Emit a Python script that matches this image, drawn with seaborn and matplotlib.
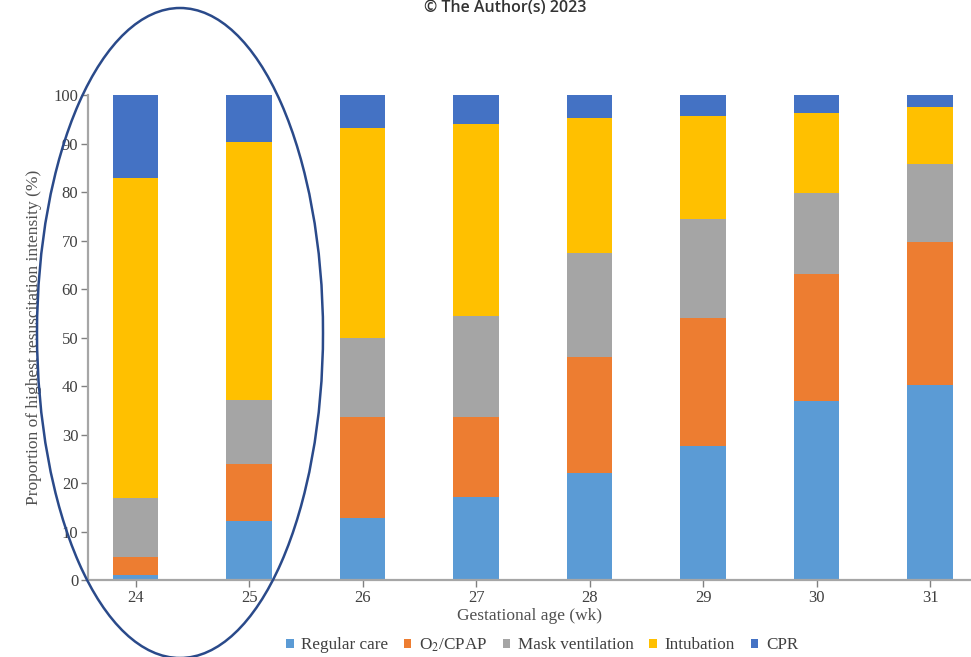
import matplotlib
matplotlib.use("Agg")
import matplotlib.pyplot as plt
from matplotlib.patches import Ellipse, Patch
import seaborn as sns
import numpy as np
import pandas as pd

ages = ["24", "25", "26", "27", "28", "29", "30", "31"]
regular_care = [1.1, 12.1, 12.8, 17.1, 22.0, 27.7, 36.9, 40.3]
o2_cpap = [3.6, 11.9, 20.9, 16.6, 24.1, 26.4, 26.2, 29.5]
mask_ventilation = [12.2, 13.2, 16.3, 20.8, 21.3, 20.3, 16.7, 16.1]
intubation = [66.0, 53.1, 43.3, 39.5, 28.0, 21.4, 16.6, 11.6]
cpr = [17.1, 9.7, 6.7, 6.0, 4.6, 4.2, 3.6, 2.5]

series_names = ["Regular care", "O$_2$/CPAP", "Mask ventilation", "Intubation", "CPR"]
series_values = [regular_care, o2_cpap, mask_ventilation, intubation, cpr]
colors = ["#5B9BD5", "#ED7D31", "#A5A5A5", "#FFC000", "#4472C4"]

sns.set_style("white")
plt.rcParams["font.family"] = ["Liberation Serif", "DejaVu Serif"]
plt.rcParams["mathtext.fontset"] = "stix"

fig = plt.figure(figsize=(9.71, 6.57), dpi=100)
ax = fig.add_axes([88 / 971, 1 - 580 / 657, 1 - 88 / 971, (580 - 95.3) / 657])

cum = np.cumsum(np.array(series_values), axis=0)
# draw from top-most cumulative down so lower segments overlay
for i in range(len(series_names) - 1, -1, -1):
    df = pd.DataFrame({"age": ages, "val": cum[i]})
    sns.barplot(data=df, x="age", y="val", color=colors[i], width=0.4,
                saturation=1, ax=ax, linewidth=0, order=ages)

ax.set_ylim(0, 100)
ax.set_xlim(-0.42, 7.36)
ax.set_yticks(range(0, 101, 10))
ax.set_ylabel("Proportion of highest resuscitation intensity (%)", fontsize=12.5,
              color="#505050", labelpad=8)
ax.set_xlabel("Gestational age (wk)", fontsize=12.5, color="#505050", labelpad=2)
for s in ["top", "right"]:
    ax.spines[s].set_visible(False)
for s in ["left", "bottom"]:
    ax.spines[s].set_color("#A6A6A6")
    ax.spines[s].set_linewidth(1.6)
ax.tick_params(axis="both", direction="out", length=5, width=1, color="#808080",
               labelsize=12, labelcolor="#404040", left=True, bottom=True, pad=2)

handles = [Patch(facecolor=c, edgecolor="none") for c in colors]
fig.legend(handles, series_names, loc="center", bbox_to_anchor=(542 / 971, 1 - 645 / 657),
           ncol=5, frameon=False, fontsize=12.3, handlelength=0.45, handleheight=0.45,
           handletextpad=0.45, columnspacing=0.9, labelcolor="#404040")

fig.text(505 / 971, 1 - 8 / 657, "© The Author(s) 2023", ha="center", va="center",
         fontsize=11.5, color="#333333", family=["Open Sans", "DejaVu Sans"],
         fontweight="semibold")

ell = Ellipse((180 / 971, 1 - 333 / 657), 286 / 971, 650 / 657, transform=fig.transFigure,
              fill=False, edgecolor="#2A4A8A", linewidth=1.8, zorder=10)
fig.patches.append(ell)

fig.savefig("out.png", dpi=100)
